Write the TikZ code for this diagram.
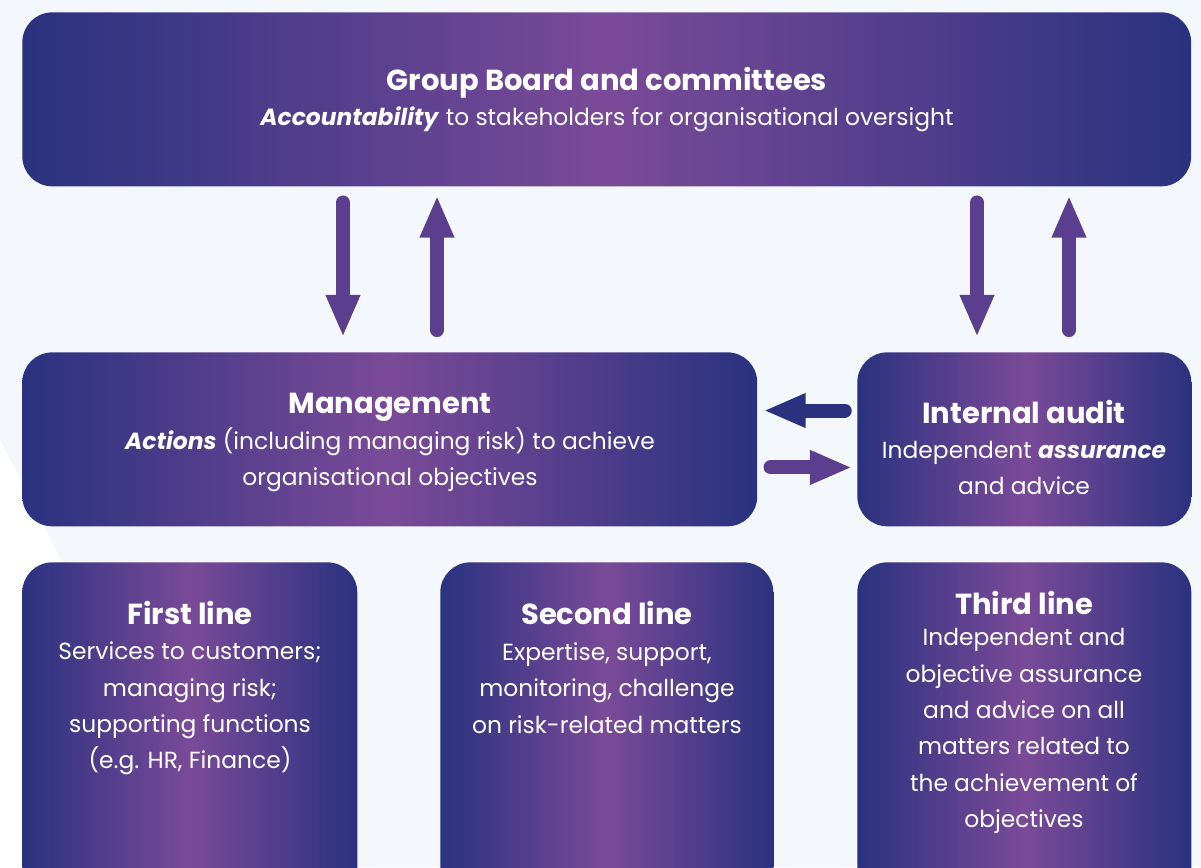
\documentclass[tikz,border=0pt]{standalone}
\usepackage{fontspec}
\setmainfont{Poppins}
\usepackage{tikz}
\usetikzlibrary{positioning, calc, arrows.meta}
\definecolor{navy}{HTML}{2A327F}
\definecolor{plum}{HTML}{7A4A98}
\definecolor{arrowplum}{HTML}{5C3E8E}
\definecolor{paper}{HTML}{F4F8FD}
\tikzset{
  panel/.style = {rounded corners=17pt, left color=navy, right color=navy, middle color=plum,
                  shading angle=90, inner sep=0pt},
  heading/.style = {text=white, font=\fontsize{16.5}{20}\selectfont\bfseries, inner sep=0pt},
  body/.style = {text=white, font=\fontsize{13.3}{20.7}\selectfont, align=center, inner sep=0pt},
  flow/.style = {line width=8pt, line cap=round, arrowplum,
                 -{Triangle[length=24pt, width=18pt]}},
}
\newcommand{\keyword}[1]{\textbf{\textit{#1}}}

\begin{document}
\begin{tikzpicture}[x=0.02cm, y=-0.02cm]
  \clip (0,0) rectangle (1201,867);
  \fill[paper] (0,0) rectangle (1201,867);
  \fill[white] (0,440) -- (62,562) -- (62,867) -- (0,867) -- cycle;

  % boxes
  \node[panel, minimum width=23.38cm, minimum height=3.48cm, anchor=north west] (board) at (22,12) {};
  \node[panel, minimum width=14.70cm, minimum height=3.48cm, anchor=north west] (mgmt) at (22,352) {};
  \node[panel, minimum width=6.68cm, minimum height=3.48cm, anchor=north west] (audit) at (857,352) {};
  \node[panel, minimum width=6.70cm, minimum height=7.00cm, anchor=north west] (first) at (22,562) {};
  \node[panel, minimum width=6.66cm, minimum height=7.00cm, anchor=north west] (second) at (440,562) {};
  \node[panel, minimum width=6.68cm, minimum height=7.00cm, anchor=north west] (third) at (857,562) {};

  % texts
  \node[heading] (boardhead) at (607,83) {Group Board and committees};
  \node[body] (boardtext) at (607,119) {\keyword{Accountability} to stakeholders for organisational oversight};
  \node[heading] (mgmthead) at (390,407) {Management};
  \node[body] (mgmttext) at (390,459.5) {\keyword{Actions} (including managing risk) to achieve\\organisational objectives};
  \node[heading] (audithead) at (1024,412) {Internal audit};
  \node[body] (audittext) at (1024,468) {Independent \keyword{assurance}\\and advice};
  \node[heading] (firsthead) at (190,613) {First line};
  \node[body] (firsttext) at (190,708.5) {Services to customers;\\managing risk;\\supporting functions\\(e.g. HR, Finance)};
  \node[heading] (secondhead) at (607,613) {Second line};
  \node[body] (secondtext) at (607,688) {Expertise, support,\\monitoring, challenge\\on risk-related matters};
  \node[heading] (thirdhead) at (1024,603) {Third line};
  \node[body] (thirdtext) at (1024,731) {Independent and\\objective assurance\\and advice on all\\matters related to\\the achievement of\\objectives};

  % arrows
  \coordinate (d1) at (343,0);
  \coordinate (u1) at (437,0);
  \coordinate (d2) at (977,0);
  \coordinate (u2) at (1069,0);
  \draw[flow] ([yshift=-9pt]board.south -| d1) -- ([yshift=8.5pt]mgmt.north -| d1);
  \draw[flow] ([yshift=12.5pt]mgmt.north -| u1) -- ([yshift=-5pt]board.south -| u1);
  \draw[flow] ([yshift=-9pt]board.south -| d2) -- ([yshift=8.5pt]audit.north -| d2);
  \draw[flow] ([yshift=12.5pt]audit.north -| u2) -- ([yshift=-5pt]board.south -| u2);
  \draw[flow, navy] ([xshift=-7pt, yshift=16.4pt]audit.west) -- ([xshift=3.4pt, yshift=16.4pt]mgmt.east);
  \draw[flow] ([xshift=7.4pt, yshift=-16pt]mgmt.east) -- ([xshift=-2.8pt, yshift=-16pt]audit.west);
\end{tikzpicture}
\end{document}
